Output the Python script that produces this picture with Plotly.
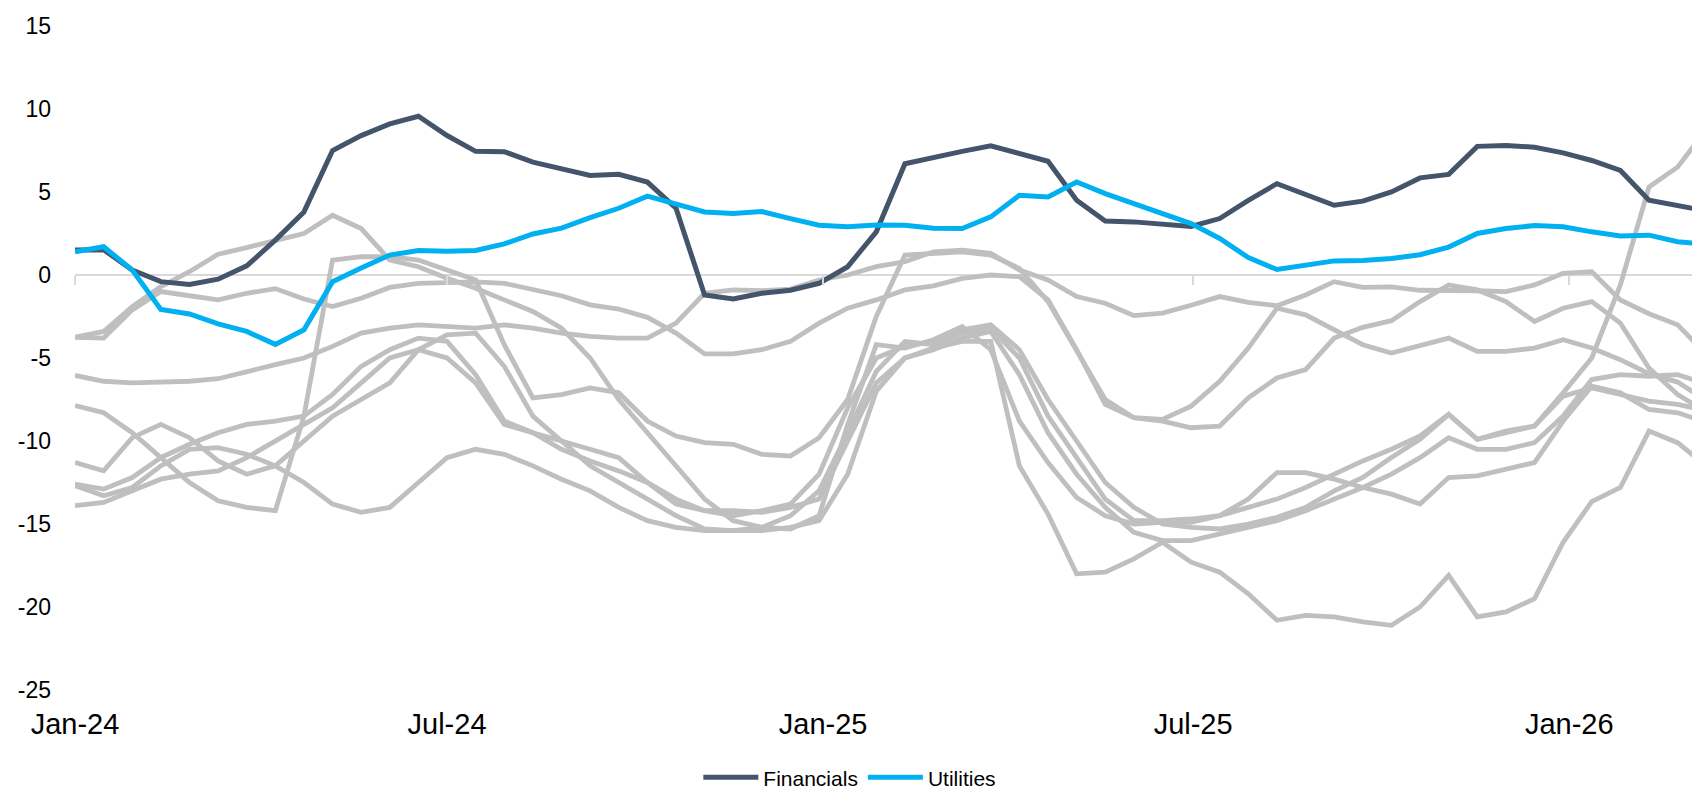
import plotly.graph_objects as go

dates = [
    "2024-01-01", "2024-01-15", "2024-01-29", "2024-02-12", "2024-02-26", "2024-03-11",
    "2024-03-25", "2024-04-08", "2024-04-22", "2024-05-06", "2024-05-20", "2024-06-03",
    "2024-06-17", "2024-07-01", "2024-07-15", "2024-07-29", "2024-08-12", "2024-08-26",
    "2024-09-09", "2024-09-23", "2024-10-07", "2024-10-21", "2024-11-04", "2024-11-18",
    "2024-12-02", "2024-12-16", "2024-12-30", "2025-01-13", "2025-01-27", "2025-02-10",
    "2025-02-24", "2025-03-10", "2025-03-24", "2025-04-07", "2025-04-21", "2025-05-05",
    "2025-05-19", "2025-06-02", "2025-06-16", "2025-06-30", "2025-07-14", "2025-07-28",
    "2025-08-11", "2025-08-25", "2025-09-08", "2025-09-22", "2025-10-06", "2025-10-20",
    "2025-11-03", "2025-11-17", "2025-12-01", "2025-12-15", "2025-12-29", "2026-01-12",
    "2026-01-26", "2026-02-09", "2026-02-23", "2026-03-04",
]

financials = [
    1.50, 1.52, 0.30, -0.40, -0.57, -0.25, 0.55, 2.10, 3.80, 7.50, 8.40, 9.10,
    9.56, 8.40, 7.45, 7.43, 6.80, 6.40, 6.00, 6.07, 5.60, 4.02, -1.20, -1.45,
    -1.10, -0.92, -0.50, 0.50, 2.60, 6.70, 7.10, 7.45, 7.78, 7.33, 6.85, 4.50,
    3.25, 3.20, 3.05, 2.92, 3.40, 4.50, 5.50, 4.85, 4.20, 4.45, 5.00, 5.85,
    6.06, 7.75, 7.80, 7.70, 7.36, 6.90, 6.30, 4.50, 4.20, 3.98,
]

utilities = [
    1.40, 1.70, 0.30, -2.08, -2.35, -2.95, -3.40, -4.18, -3.30, -0.40, 0.42, 1.20,
    1.47, 1.43, 1.48, 1.87, 2.47, 2.82, 3.46, 4.02, 4.75, 4.25, 3.80, 3.70,
    3.82, 3.40, 3.00, 2.90, 3.01, 3.00, 2.82, 2.80, 3.50, 4.80, 4.70, 5.60,
    4.90, 4.30, 3.70, 3.10, 2.20, 1.05, 0.33, 0.60, 0.85, 0.87, 1.00, 1.22,
    1.68, 2.50, 2.80, 2.98, 2.90, 2.60, 2.35, 2.40, 2.00, 1.90,
]

other_1 = [
    -6.05, -6.40, -6.50, -6.45, -6.40, -6.25, -5.80, -5.40, -5.00, -4.30, -3.50, -3.20,
    -3.00, -3.10, -3.20, -3.00, -3.20, -3.50, -3.70, -3.80, -3.80, -2.90, -1.10, -0.90,
    -0.95, -0.85, -0.30, 0.00, 0.50, 0.80, 1.40, 1.50, 1.30, 0.30, -0.30, -1.30,
    -1.70, -2.45, -2.30, -1.82, -1.30, -1.65, -1.85, -1.20, -0.40, -0.75, -0.71, -0.92,
    -0.90, -0.95, -1.00, -0.60, 0.10, 0.20, -1.50, -2.33, -3.00, -4.14,
]

other_2 = [
    -3.75, -3.80, -2.10, -1.00, -1.25, -1.50, -1.10, -0.82, -1.45, -1.90, -1.40, -0.75,
    -0.50, -0.45, -0.42, -0.50, -0.90, -1.25, -1.80, -2.05, -2.55, -3.50, -4.75, -4.75,
    -4.50, -4.00, -2.90, -2.00, -1.50, -0.90, -0.65, -0.20, 0.00, -0.10, -1.50, -4.50,
    -7.80, -8.60, -8.80, -9.20, -9.10, -7.40, -6.20, -5.70, -3.80, -3.15, -2.75, -1.60,
    -0.60, -0.90, -1.60, -2.80, -2.00, -1.60, -2.90, -5.60, -7.20, -7.87,
]

other_3 = [
    -3.75, -3.40, -1.90, -0.70, 0.20, 1.25, 1.65, 2.10, 2.50, 3.60, 2.80, 0.90,
    0.50, -0.20, -0.80, -1.50, -2.20, -3.20, -5.00, -7.50, -9.50, -11.50, -13.50, -14.80,
    -15.20, -15.30, -14.50, -9.00, -4.20, -4.40, -3.90, -3.10, -4.50, -8.80, -11.30, -13.40,
    -14.50, -15.00, -14.90, -14.90, -14.50, -14.00, -13.50, -12.80, -12.00, -11.20, -10.50, -9.70,
    -8.40, -9.90, -9.40, -9.10, -7.10, -5.00, -0.60, 5.30, 6.50, 7.95,
]

other_4 = [
    -7.87, -8.30, -9.50, -11.00, -12.50, -13.60, -14.00, -14.20, -8.50, 0.90, 1.10, 1.10,
    0.90, 0.30, -0.30, -4.20, -7.40, -7.20, -6.80, -7.10, -8.80, -9.70, -10.10, -10.20,
    -10.80, -10.90, -9.80, -7.50, -2.50, 1.20, 1.30, 1.40, 1.20, 0.40, -1.60, -4.50,
    -7.50, -8.60, -8.70, -7.90, -6.40, -4.40, -2.00, -2.40, -3.30, -4.20, -4.70, -4.25,
    -3.80, -4.60, -4.60, -4.40, -3.90, -4.40, -5.10, -5.95, -6.45, -7.16,
]

other_5 = [
    -11.30, -11.80, -9.80, -9.00, -9.80, -11.20, -12.00, -11.50, -10.00, -8.50, -7.50, -6.50,
    -4.50, -3.60, -3.50, -5.50, -8.50, -10.00, -10.50, -11.00, -12.50, -13.80, -14.20, -14.20,
    -14.30, -14.00, -13.50, -10.00, -6.50, -5.00, -4.50, -3.80, -3.40, -6.00, -9.50, -12.00,
    -14.00, -15.50, -16.00, -16.00, -15.60, -15.20, -14.80, -14.20, -13.50, -12.80, -12.00, -11.00,
    -9.80, -10.50, -10.50, -10.10, -8.50, -6.30, -6.00, -6.10, -6.00, -6.36,
]

other_6 = [
    -12.70, -13.30, -12.80, -11.50, -10.50, -10.40, -10.80, -11.50, -12.50, -13.80, -14.30, -14.00,
    -12.50, -11.00, -10.50, -10.80, -11.50, -12.30, -13.00, -14.00, -14.80, -15.20, -15.40, -15.40,
    -15.20, -14.50, -13.00, -9.50, -5.80, -4.00, -4.20, -3.50, -3.20, -5.00, -8.50, -11.00,
    -13.50, -14.80, -14.80, -14.70, -14.50, -13.50, -11.90, -11.90, -12.30, -12.80, -13.20, -13.80,
    -12.20, -12.10, -11.70, -11.30, -8.80, -6.70, -7.10, -8.10, -8.30, -8.67,
]

other_7 = [
    -13.90, -13.70, -13.00, -12.30, -12.00, -11.80, -11.00, -10.00, -9.00, -8.00, -6.50, -5.00,
    -4.50, -5.00, -6.50, -9.00, -9.50, -10.00, -11.50, -12.50, -13.50, -14.50, -15.30, -15.40,
    -15.40, -15.20, -14.80, -12.00, -7.00, -5.00, -4.40, -4.00, -4.00, -11.50, -14.40, -18.00,
    -17.90, -17.10, -16.10, -17.30, -17.90, -19.20, -20.80, -20.50, -20.60, -20.90, -21.10, -20.00,
    -18.10, -20.60, -20.30, -19.50, -16.10, -13.65, -12.80, -9.40, -10.10, -11.00,
]

other_8 = [
    -12.60, -12.90, -12.20, -11.00, -10.20, -9.50, -9.00, -8.80, -8.50, -7.20, -5.50, -4.50,
    -3.80, -4.00, -6.00, -8.80, -9.50, -10.50, -11.20, -11.80, -12.50, -13.50, -14.20, -14.50,
    -14.20, -13.80, -12.00, -8.00, -5.00, -4.30, -4.00, -3.30, -3.00, -4.50, -7.50, -10.00,
    -12.50, -14.00, -15.00, -15.20, -15.30, -15.00, -14.60, -14.00, -13.00, -12.20, -11.00, -9.90,
    -8.40, -9.90, -9.50, -9.10, -7.30, -6.80, -7.20, -7.60, -7.80, -8.03,
]

others = [other_1, other_2, other_3, other_4, other_5, other_6, other_7, other_8]

y_ticks = [15, 10, 5, 0, -5, -10, -15, -20, -25]
x_tick_vals = ["2024-01-01", "2024-07-01", "2025-01-01", "2025-07-01", "2026-01-01"]
x_tick_text = ["Jan-24", "Jul-24", "Jan-25", "Jul-25", "Jan-26"]

FONT = "Liberation Sans, Arial, sans-serif"
GRAY = "#BFBFBF"
NAVY = "#44546A"
CYAN = "#00B0F0"

fig = go.Figure()

for vals in others:
    fig.add_trace(go.Scatter(
        x=dates, y=vals, mode="lines", showlegend=False, hoverinfo="skip",
        line=dict(color=GRAY, width=4.8),
    ))

fig.add_trace(go.Scatter(
    x=dates, y=financials, mode="lines", name="Financials",
    line=dict(color=NAVY, width=5),
))
fig.add_trace(go.Scatter(
    x=dates, y=utilities, mode="lines", name="Utilities",
    line=dict(color=CYAN, width=5),
))

# helper axis for tick marks sitting on the zero line
fig.add_trace(go.Scatter(x=[], y=[], xaxis="x2", showlegend=False, hoverinfo="skip"))

x_range = ["2024-01-01", "2026-03-04"]

fig.update_layout(
    width=1700, height=792,
    margin=dict(l=67, r=12, t=18, b=110, autoexpand=False),
    paper_bgcolor="white", plot_bgcolor="white",
    font=dict(family=FONT, color="#000000"),
    xaxis=dict(
        type="date", range=x_range,
        tickvals=x_tick_vals, ticktext=x_tick_text,
        showgrid=False, zeroline=False, showline=False, ticks="",
        tickfont=dict(size=29, family=FONT, color="#000000"),
        ticklabelstandoff=14,
    ),
    xaxis2=dict(
        type="date", range=x_range, overlaying="x", anchor="free",
        position=25 / 40, tickvals=x_tick_vals, showticklabels=False,
        ticks="outside", ticklen=9, tickwidth=2, tickcolor="#D9D9D9",
        showgrid=False, zeroline=False, showline=False,
    ),
    yaxis=dict(
        range=[-25, 15], tickvals=y_ticks, ticktext=[str(v) for v in y_ticks],
        showgrid=False, zeroline=True, zerolinecolor="#D9D9D9", zerolinewidth=2,
        showline=False, ticks="",
        tickfont=dict(size=23, family=FONT, color="#000000"),
        ticklabelstandoff=23,
    ),
    legend=dict(
        orientation="h", x=0.478, xanchor="center",
        y=-0.132, yanchor="middle",
        font=dict(size=21, family=FONT, color="#000000"),
        itemwidth=55, bgcolor="rgba(0,0,0,0)",
    ),
)

fig.write_html("out.html")
